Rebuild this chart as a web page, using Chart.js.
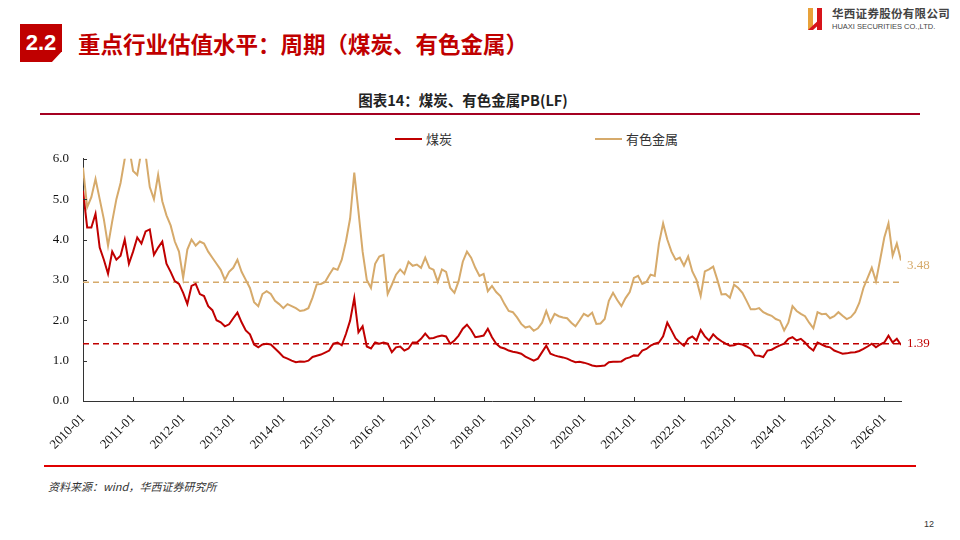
<!DOCTYPE html>
<html>
<head>
<meta charset="utf-8">
<script src="https://cdn.jsdelivr.net/npm/chart.js@4.4.1/dist/chart.umd.min.js"></script>
<style>
  html, body { margin: 0; padding: 0; background: #fff; }
  body { width: 960px; height: 540px; position: relative; overflow: hidden; font-family: "Noto Sans CJK SC", "Noto Sans", sans-serif; }
  .abs { position: absolute; }
  #secBox { left: 20px; top: 24px; width: 42px; height: 38px; background: #C00000;
            clip-path: polygon(0 0, 100% 0, 100% 72%, 76% 100%, 0 100%);
            color: #fff; font: bold 22px "Liberation Sans", Arial, sans-serif; line-height: 38px; text-align: center; }
  #heading { left: 78px; top: 27px; color: #C00000; font-weight: bold; font-size: 22.5px; line-height: 32px; white-space: nowrap; }
  #logoIcon { left: 808px; top: 8px; width: 14px; height: 22px; }
  #logoCn { left: 832px; top: 5px; font-family: "Noto Sans CJK SC"; font-weight: bold; font-size: 11.5px; color: #444; white-space: nowrap; letter-spacing: 0.3px; }
  #logoEn { left: 832px; top: 22px; font-family: "Liberation Sans", Arial; font-size: 7.5px; color: #444; white-space: nowrap; }
  #chartTitle { left: 0; width: 926px; top: 89px; text-align: center; font-weight: bold; font-size: 14.5px; color: #222; white-space: nowrap; }
  #titleRule { left: 40px; top: 113px; width: 880px; height: 2px; background: #A50021; }
  .lg { top: 131px; font-size: 13px; color: #333; white-space: nowrap; line-height: 16px; }
  .lgLine { display: inline-block; width: 27px; height: 2px; vertical-align: middle; margin-right: 4px; position: relative; top: -1px; }
  #chartWrap { left: 40px; top: 137px; width: 900px; height: 323px; }
  #footRule { left: 44px; top: 465px; width: 872px; height: 2px; background: #E00000; }
  #source { left: 48px; top: 478px; font-size: 11px; color: #333; font-style: italic; white-space: nowrap; }
  #pageNo { left: 924px; top: 519px; font-size: 9px; color: #333; font-family: "Liberation Sans", Arial; }
</style>
</head>
<body>
<div id="secBox" class="abs">2.2</div>
<div id="heading" class="abs">重点行业估值水平：周期（煤炭、有色金属）</div>
<svg id="logoIcon" class="abs" viewBox="0 0 14 22">
  <rect x="0" y="0" width="5" height="22" fill="#E8A23A"/>
  <rect x="9" y="0" width="5" height="22" fill="#D7141A"/>
  <polygon points="0,22 14,9 14,14 5,22" fill="#D7141A"/>
</svg>
<div id="logoCn" class="abs">华西证券股份有限公司</div>
<div id="logoEn" class="abs">HUAXI SECURITIES CO.,LTD.</div>
<div id="chartTitle" class="abs">图表14：煤炭、有色金属PB(LF)</div>
<div id="titleRule" class="abs"></div>
<div class="abs lg" style="left:395px"><span class="lgLine" style="background:#C00000"></span>煤炭</div>
<div class="abs lg" style="left:595px"><span class="lgLine" style="background:#D6AA6B"></span>有色金属</div>
<div id="chartWrap" class="abs"><canvas id="pbChart" width="900" height="323"></canvas></div>
<div id="footRule" class="abs"></div>
<div id="source" class="abs">资料来源：wind，华西证券研究所</div>
<div id="pageNo" class="abs">12</div>

<script>
// 月度数据：2010-01 ~ 2026-05
const startYear = 2010;
const monthCount = 197;
const monthLabels = [];
for (let i = 0; i < monthCount; i++) {
    const y = startYear + Math.floor(i / 12);
    const m = String(i % 12 + 1).padStart(2, '0');
    monthLabels.push(y + '-' + m);
}

// x 轴刻度（每年 1 月）
const yearTicks = ['2010-01', '2011-01', '2012-01', '2013-01', '2014-01', '2015-01', '2016-01', '2017-01', '2018-01',
                   '2019-01', '2020-01', '2021-01', '2022-01', '2023-01', '2024-01', '2025-01', '2026-01'];

// 煤炭 PB(LF)
const coalPB = [
    5.21, 4.30, 4.30, 4.64, 3.80, 3.50, 3.15, 3.70, 3.50, 3.60, 4.00, 3.40,
    3.70, 4.05, 3.90, 4.20, 4.25, 3.62, 3.80, 3.95, 3.40, 3.20, 2.97, 2.90,
    2.68, 2.40, 2.85, 2.90, 2.65, 2.60, 2.35, 2.25, 2.00, 1.95, 1.85, 1.90,
    2.05, 2.19, 1.95, 1.75, 1.65, 1.40, 1.33, 1.40, 1.42, 1.40, 1.30, 1.20,
    1.09, 1.05, 1.00, 0.96, 0.98, 0.97, 1.00, 1.09, 1.12, 1.15, 1.20, 1.25,
    1.42, 1.45, 1.38, 1.66, 1.99, 2.55, 1.70, 1.85, 1.35, 1.30, 1.45, 1.42,
    1.45, 1.42, 1.21, 1.33, 1.35, 1.25, 1.30, 1.45, 1.45, 1.54, 1.67, 1.55,
    1.56, 1.60, 1.62, 1.60, 1.42, 1.50, 1.62, 1.79, 1.89, 1.76, 1.58, 1.60,
    1.62, 1.79, 1.58, 1.42, 1.33, 1.30, 1.25, 1.22, 1.20, 1.17, 1.10, 1.05,
    1.00, 1.05, 1.21, 1.37, 1.17, 1.13, 1.10, 1.08, 1.05, 1.00, 0.96, 0.97,
    0.95, 0.92, 0.88, 0.86, 0.87, 0.88, 0.96, 0.97, 0.97, 0.98, 1.05, 1.08,
    1.13, 1.12, 1.25, 1.29, 1.37, 1.42, 1.45, 1.60, 1.94, 1.75, 1.55, 1.45,
    1.37, 1.54, 1.60, 1.50, 1.76, 1.60, 1.50, 1.65, 1.55, 1.48, 1.42, 1.37,
    1.38, 1.42, 1.40, 1.35, 1.29, 1.13, 1.12, 1.09, 1.25, 1.27, 1.33, 1.38,
    1.42, 1.54, 1.58, 1.50, 1.54, 1.45, 1.33, 1.25, 1.45, 1.40, 1.35, 1.33,
    1.25, 1.21, 1.17, 1.18, 1.20, 1.21, 1.24, 1.29, 1.35, 1.42, 1.33, 1.40,
    1.45, 1.62, 1.45, 1.54, 1.39
];

// 有色金属 PB(LF)
const metalPB = [
    5.78, 4.80, 5.05, 5.50, 5.00, 4.50, 3.85, 4.45, 5.00, 5.40, 6.00, 6.30,
    5.70, 5.60, 6.20, 6.10, 5.30, 5.00, 5.60, 4.95, 4.60, 4.35, 3.95, 3.70,
    3.05, 3.75, 4.00, 3.85, 3.95, 3.90, 3.70, 3.55, 3.40, 3.25, 3.00, 3.20,
    3.30, 3.50, 3.20, 3.00, 2.80, 2.45, 2.35, 2.65, 2.72, 2.65, 2.48, 2.40,
    2.30, 2.40, 2.35, 2.30, 2.23, 2.25, 2.30, 2.56, 2.89, 2.90, 2.95, 3.13,
    3.29, 3.25, 3.50, 3.95, 4.52, 5.66, 4.70, 3.70, 3.00, 2.80, 3.40, 3.58,
    3.62, 2.65, 2.88, 3.13, 3.26, 3.15, 3.45, 3.35, 3.38, 3.30, 3.55, 3.30,
    3.25, 2.95, 3.26, 3.20, 2.80, 2.68, 2.97, 3.45, 3.70, 3.55, 3.30, 3.10,
    3.15, 2.72, 2.85, 2.70, 2.60, 2.40, 2.23, 2.20, 2.07, 1.91, 1.82, 1.85,
    1.74, 1.80, 1.94, 2.23, 1.95, 2.16, 2.10, 2.07, 2.05, 1.94, 1.85, 2.00,
    2.16, 2.10, 2.19, 1.91, 1.92, 2.03, 2.48, 2.68, 2.50, 2.35, 2.55, 2.70,
    3.05, 3.10, 2.90, 2.95, 3.13, 3.10, 3.90, 4.40, 4.00, 3.70, 3.50, 3.55,
    3.35, 3.58, 3.21, 3.00, 2.60, 3.21, 3.26, 3.33, 3.00, 2.64, 2.65, 2.56,
    2.88, 2.80, 2.68, 2.48, 2.27, 2.27, 2.30, 2.20, 2.15, 2.11, 2.03, 1.99,
    1.75, 1.94, 2.35, 2.23, 2.16, 2.10, 1.94, 1.80, 2.20, 2.15, 2.16, 2.05,
    2.10, 2.20, 2.11, 2.03, 2.08, 2.20, 2.43, 2.80, 3.05, 3.30, 2.97, 3.50,
    4.05, 4.40, 3.60, 3.90, 3.48
];

// 历史均值（虚线）
const coalAvg = 1.42;
const metalAvg = 2.94;

const yTicks = [0, 1, 2, 3, 4, 5, 6];

const COAL_COLOR = '#C00000';
const METAL_COLOR = '#D6AA6B';
const SERIF = '"Liberation Serif", "Times New Roman", serif';

const toPoints = arr => arr.map((v, i) => ({ x: i, y: v }));
const flat = v => monthLabels.map((_, i) => ({ x: i, y: v }));

// 轴内侧刻度线 + 末值标签
const innerTicks = {
    id: 'innerTicks',
    afterDraw(chart) {
        const { ctx, chartArea, scales } = chart;
        ctx.save();
        ctx.strokeStyle = '#333';
        ctx.lineWidth = 1;
        ctx.beginPath();
        scales.x.ticks.forEach(t => {
            const px = Math.round(scales.x.getPixelForValue(t.value)) + 0.5;
            ctx.moveTo(px, chartArea.bottom);
            ctx.lineTo(px, chartArea.bottom - 4);
        });
        scales.y.ticks.forEach(t => {
            const py = Math.round(scales.y.getPixelForValue(t.value)) + 0.5;
            ctx.moveTo(chartArea.left, py);
            ctx.lineTo(chartArea.left + 4, py);
        });
        ctx.stroke();

        ctx.font = '13px ' + SERIF;
        ctx.textBaseline = 'middle';
        ctx.textAlign = 'left';
        const last = monthCount - 1;
        const xEnd = scales.x.getPixelForValue(last) + 6;
        ctx.fillStyle = METAL_COLOR;
        ctx.fillText(metalPB[last].toFixed(2), xEnd, scales.y.getPixelForValue(metalPB[last]) + 5);
        ctx.fillStyle = COAL_COLOR;
        ctx.fillText(coalPB[last].toFixed(2), xEnd, scales.y.getPixelForValue(coalPB[last]) - 1);
        ctx.restore();
    }
};

const ctx = document.getElementById('pbChart').getContext('2d');
new Chart(ctx, {
    type: 'line',
    data: {
        datasets: [
            { label: '有色金属均值', data: flat(metalAvg), borderColor: METAL_COLOR, borderWidth: 1.5, borderDash: [6, 4], pointRadius: 0, order: 3 },
            { label: '煤炭均值', data: flat(coalAvg), borderColor: COAL_COLOR, borderWidth: 1.5, borderDash: [6, 4], pointRadius: 0, order: 2 },
            { label: '有色金属', data: toPoints(metalPB), borderColor: METAL_COLOR, borderWidth: 2, pointRadius: 0, tension: 0, order: 1 },
            { label: '煤炭', data: toPoints(coalPB), borderColor: COAL_COLOR, borderWidth: 2, pointRadius: 0, tension: 0, order: 0 }
        ]
    },
    options: {
        responsive: false,
        animation: false,
        layout: { padding: { left: 0, right: 39, top: 4, bottom: 0 } },
        plugins: {
            legend: { display: false },
            tooltip: { enabled: false }
        },
        scales: {
            x: {
                type: 'linear',
                min: 0,
                max: monthCount - 1,
                afterFit(scale) { scale.height = 59; },
                afterBuildTicks(scale) { scale.ticks = yearTicks.map(lbl => ({ value: monthLabels.indexOf(lbl) })); },
                grid: { display: false, drawTicks: false },
                border: { display: true, color: '#333', width: 1 },
                ticks: {
                    autoSkip: false,
                    minRotation: 45,
                    maxRotation: 45,
                    padding: 10,
                    color: '#111',
                    font: { family: SERIF, size: 13 },
                    callback: v => monthLabels[v] ?? ''
                }
            },
            y: {
                min: 0,
                max: 6,
                afterFit(scale) { scale.width = 43; },
                afterBuildTicks(scale) { scale.ticks = yTicks.map(v => ({ value: v })); },
                grid: { display: false, drawTicks: false },
                border: { display: true, color: '#333', width: 1 },
                ticks: {
                    padding: 14,
                    color: '#111',
                    font: { family: SERIF, size: 13 },
                    callback: v => Number(v).toFixed(1)
                }
            }
        }
    },
    plugins: [innerTicks]
});
</script>
</body>
</html>
